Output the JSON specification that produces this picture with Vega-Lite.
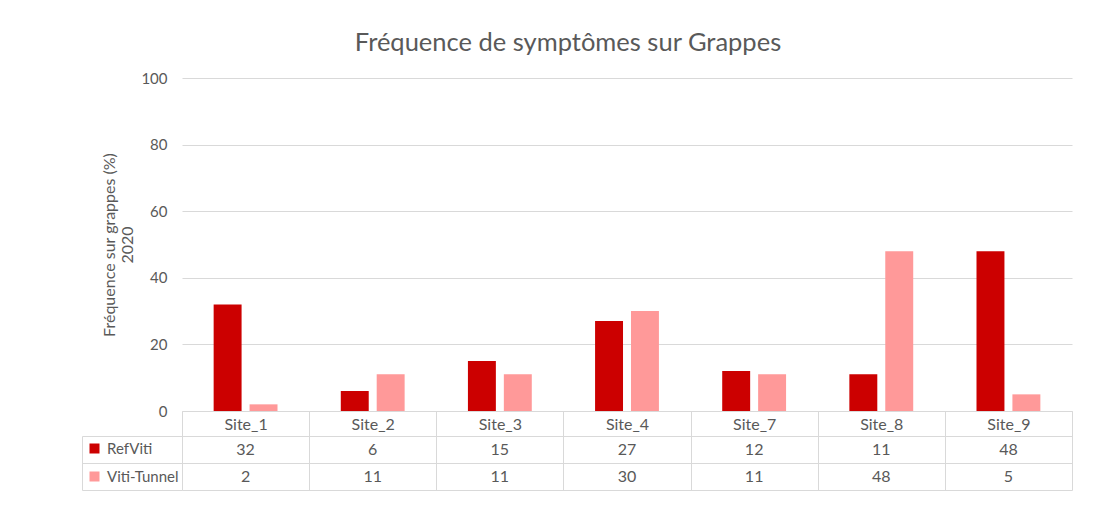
{
  "$schema": "https://vega.github.io/schema/vega-lite/v6.json",
  "width": 890,
  "height": 333,
  "autosize": {"type": "none"},
  "padding": {"left": 182, "top": 78, "right": 46, "bottom": 110},
  "background": "white",
  "config": {"font": "Lato", "view": {"stroke": null}},
  "title": {
    "text": "Fréquence de symptômes sur Grappes",
    "fontSize": 25.5,
    "font": "Lato",
    "fontWeight": "normal",
    "color": "#595959",
    "anchor": "middle",
    "baseline": "alphabetic",
    "offset": -5,
    "dx": -59
  },
  "data": {
    "values": [
      {"Site": "Site_1", "Serie": "RefViti", "value": 32},
      {"Site": "Site_1", "Serie": "Viti-Tunnel", "value": 2},
      {"Site": "Site_2", "Serie": "RefViti", "value": 6},
      {"Site": "Site_2", "Serie": "Viti-Tunnel", "value": 11},
      {"Site": "Site_3", "Serie": "RefViti", "value": 15},
      {"Site": "Site_3", "Serie": "Viti-Tunnel", "value": 11},
      {"Site": "Site_4", "Serie": "RefViti", "value": 27},
      {"Site": "Site_4", "Serie": "Viti-Tunnel", "value": 30},
      {"Site": "Site_7", "Serie": "RefViti", "value": 12},
      {"Site": "Site_7", "Serie": "Viti-Tunnel", "value": 11},
      {"Site": "Site_8", "Serie": "RefViti", "value": 11},
      {"Site": "Site_8", "Serie": "Viti-Tunnel", "value": 48},
      {"Site": "Site_9", "Serie": "RefViti", "value": 48},
      {"Site": "Site_9", "Serie": "Viti-Tunnel", "value": 5}
    ]
  },
  "layer": [
    {
      "mark": {"type": "bar"},
      "encoding": {
        "x": {
          "field": "Site",
          "type": "nominal",
          "sort": null,
          "scale": {"type": "band", "paddingInner": 0, "paddingOuter": 0},
          "axis": {
            "title": null,
            "labelAngle": 0,
            "domainColor": "#D9D9D9",
            "tickColor": "#D9D9D9",
            "tickBand": "extent",
            "tickSize": 79,
            "labelPadding": -66,
            "labelBaseline": "middle",
            "labelFontSize": 16,
            "labelColor": "#595959"
          }
        },
        "xOffset": {
          "field": "Serie",
          "type": "nominal",
          "sort": ["RefViti", "Viti-Tunnel"],
          "scale": {"paddingInner": 0.222, "paddingOuter": 0.881}
        },
        "y": {
          "field": "value",
          "type": "quantitative",
          "scale": {"domain": [0, 100]},
          "axis": {
            "values": [0, 20, 40, 60, 80, 100],
            "grid": true,
            "gridColor": "#D9D9D9",
            "domain": false,
            "ticks": false,
            "labelPadding": 15,
            "labelFontSize": 15,
            "labelColor": "#595959",
            "title": ["Fréquence sur grappes (%)", "2020"],
            "titleFontSize": 16,
            "titleFontWeight": "normal",
            "titleColor": "#595959",
            "titlePadding": 5
          }
        },
        "color": {
          "field": "Serie",
          "type": "nominal",
          "scale": {"domain": ["RefViti", "Viti-Tunnel"], "range": ["#CC0000", "#FF9999"]},
          "legend": {
            "orient": "none",
            "legendX": -95,
            "legendY": 363,
            "title": null,
            "symbolType": "square",
            "symbolSize": 100,
            "symbolStrokeWidth": 0,
            "labelFontSize": 15,
            "labelColor": "#595959",
            "labelOffset": 5,
            "rowPadding": 12,
            "padding": 0
          }
        }
      }
    },
    {
      "mark": {"type": "text", "fontSize": 16, "color": "#595959"},
      "encoding": {
        "x": {"field": "Site", "type": "nominal", "sort": null},
        "y": {
          "field": "Serie",
          "type": "nominal",
          "sort": ["RefViti", "Viti-Tunnel"],
          "scale": {"type": "band", "range": [358, 412], "paddingInner": 0, "paddingOuter": 0},
          "axis": {
            "orient": "left",
            "offset": 100,
            "title": null,
            "labels": false,
            "domainColor": "#D9D9D9",
            "tickColor": "#D9D9D9",
            "tickSize": -100,
            "tickBand": "extent",
            "grid": true,
            "gridColor": "#D9D9D9"
          }
        },
        "text": {"field": "value", "type": "quantitative"}
      }
    }
  ],
  "resolve": {"scale": {"y": "independent"}, "axis": {"y": "independent"}}
}
